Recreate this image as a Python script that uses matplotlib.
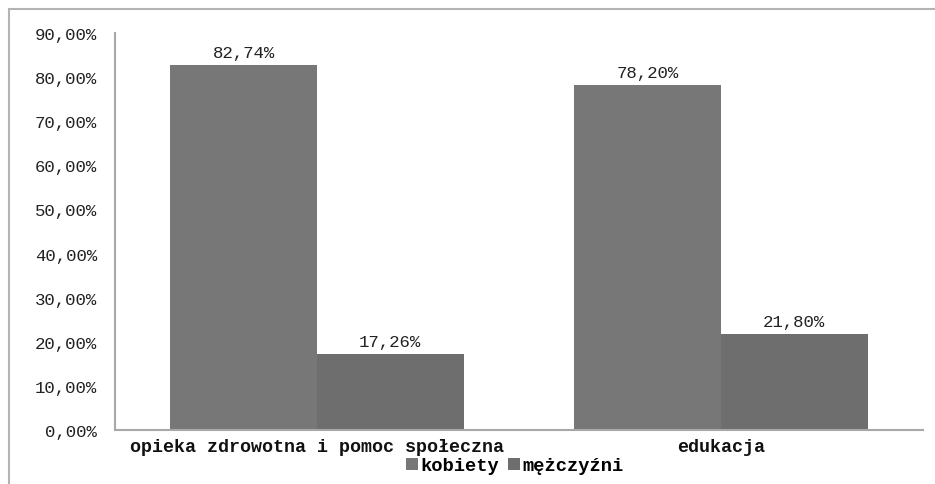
import matplotlib.pyplot as plt
import matplotlib.patches as mpatches
import numpy as np

# udział kobiet i mężczyzn w sekcjach
categories = ["opieka zdrowotna i pomoc społeczna", "edukacja"]
kobiety = [82.74, 78.20]
mezczyzni = [17.26, 21.80]
series_names = ["kobiety", "mężczyźni"]
yticks = [0, 10, 20, 30, 40, 50, 60, 70, 80, 90]

FONT = "Liberation Mono"
col_k = "#777777"
col_m = "#6e6e6e"


def pl(v):
    return f"{v:.2f}%".replace(".", ",")


fig = plt.figure(figsize=(9.35, 4.85), dpi=100)
ax = fig.add_axes([115 / 935, 1 - 431 / 485, (923 - 115) / 935, (431 - 34) / 485])

# ramka wykresu
fig.patches.append(mpatches.Rectangle((9 / 935, -0.1), 1.2, 1 - 10 / 485 + 0.1,
                                      transform=fig.transFigure, fill=False,
                                      edgecolor="#b4b4b4", linewidth=1.5))

x = np.arange(len(categories))
w = 0.363
bk = ax.bar(x - w / 2, kobiety, w, color=col_k, label=series_names[0])
bm = ax.bar(x + w / 2, mezczyzni, w, color=col_m, label=series_names[1])

for bars, vals in ((bk, kobiety), (bm, mezczyzni)):
    for b, v in zip(bars, vals):
        ax.text(b.get_x() + b.get_width() / 2, v + 1.1, pl(v), ha="center", va="bottom",
                fontsize=12.5, family=FONT, color="#222222")

ax.set_xlim(-0.5, 1.5)
ax.set_ylim(0, 90)
ax.set_yticks(yticks)
ax.set_yticklabels([pl(t) for t in yticks], family=FONT, fontsize=12.5, color="#222222")
ax.set_xticks(x)
ax.set_xticklabels(categories, family=FONT, fontsize=13.2, weight="bold", color="#111111")
ax.tick_params(axis="both", length=0)
ax.tick_params(axis="y", pad=13)
ax.tick_params(axis="x", pad=6)

for s in ("top", "right"):
    ax.spines[s].set_visible(False)
for s in ("left", "bottom"):
    ax.spines[s].set_color("#a8a8a8")
    ax.spines[s].set_linewidth(1.5)

fig.legend(loc="center", bbox_to_anchor=(515 / 935, 1 - 467 / 485), ncol=2, frameon=False,
           prop={"family": FONT, "size": 13.5, "weight": "bold"}, handlelength=0.6,
           handleheight=0.6, handletextpad=0.15, columnspacing=0.5, borderpad=0)

fig.savefig("out.png", dpi=100, facecolor="white")
